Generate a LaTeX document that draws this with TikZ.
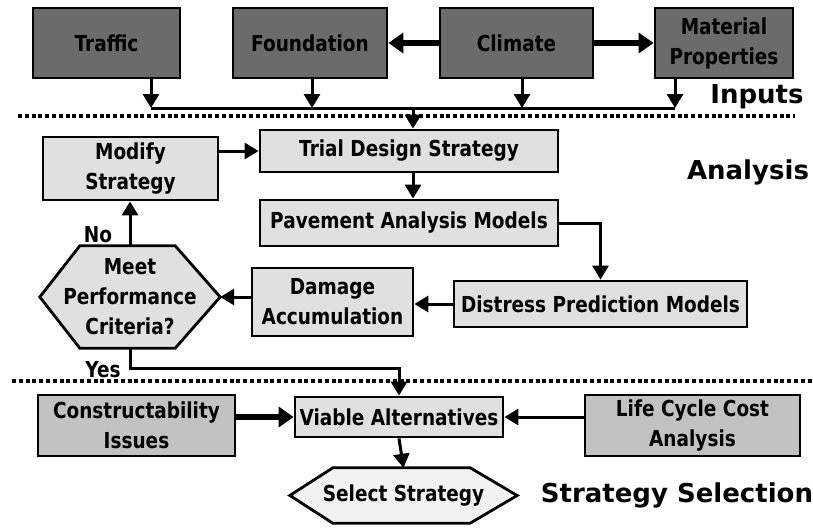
\documentclass[tikz,border=0pt]{standalone}
\usepackage{fontspec}
\setmainfont{DejaVu Sans}
\newfontfamily\boxfont{DejaVu Sans}[FakeStretch=0.84]
\usetikzlibrary{arrows.meta}
\definecolor{inputfill}{HTML}{6B6B6B}
\definecolor{analysisfill}{HTML}{E0E0E0}
\definecolor{selfill}{HTML}{C2C2C2}
\definecolor{finalfill}{HTML}{F2F2F2}
\begin{document}
\begin{tikzpicture}[x=1pt,y=-1pt,
  box/.style={draw=black, line width=2.8pt, align=center, inner sep=0pt,
    font=\boxfont\bfseries\fontsize{22}{30}\selectfont},
  inbox/.style={box, fill=inputfill},
  anbox/.style={box, fill=analysisfill},
  selbox/.style={box, fill=selfill},
  hexshape/.style={draw=black, line width=2.8pt, line join=miter},
  hextext/.style={align=center, inner sep=0pt, font=\boxfont\bfseries\fontsize{22}{30}\selectfont},
  holder/.style={draw=none, inner sep=0pt},
  arr/.style={line width=3pt, -{Triangle[length=14pt,width=16pt]}},
  thickarr/.style={line width=5.5pt, -{Triangle[length=15pt,width=20pt]}},
  plainline/.style={line width=3pt},
  sepline/.style={line width=4pt, dash pattern=on 4pt off 2.8pt},
  section/.style={font=\bfseries\fontsize{26}{30}\selectfont, inner sep=0pt},
  lbl/.style={font=\boxfont\bfseries\fontsize{22}{26}\selectfont, inner sep=0pt}
]
\fill[white] (0,0) rectangle (813,527);
\useasboundingbox (0,0) rectangle (813,527);

% separators
\draw[sepline] (18,116) -- (795,116);
\draw[sepline] (12,381) -- (813,381);

% Inputs
\node[inbox, minimum width=147pt, minimum height=70pt] (traffic) at (106.5,43) {Traffic};
\node[inbox, minimum width=154pt, minimum height=70pt] (foundation) at (310,43) {Foundation};
\node[inbox, minimum width=153pt, minimum height=70pt] (climate) at (516.5,43) {Climate};
\node[inbox, minimum width=138pt, minimum height=70pt] (material) at (724,43) {Material\\Properties};

\draw[thickarr] (climate.west) -- (foundation.east);
\draw[thickarr] (climate.east) -- (material.west);

\coordinate (busL) at (151,108);
\coordinate (busR) at (675,108);
\coordinate (busM) at (413,108);
\draw[plainline] (busL) -- (busR);
\draw[arr] (traffic.south -| busL) -- (busL);
\draw[arr] ([xshift=2pt]foundation.south) -- ([xshift=2pt]foundation.south |- busL);
\draw[arr] ([xshift=5.5pt]climate.south) -- ([xshift=5.5pt]climate.south |- busL);
\draw[arr] (material.south -| busR) -- (busR);

\node[section] (inputs) at (757,97) {Inputs};

% Analysis
\node[anbox, minimum width=298pt, minimum height=42pt] (trial) at (409,151) {Trial Design Strategy};
\node[anbox, minimum width=175pt, minimum height=63pt] (modify) at (130.5,168.5) {Modify\\Strategy};
\node[anbox, minimum width=298pt, minimum height=46pt] (pavement) at (409,223) {Pavement Analysis Models};
\node[anbox, minimum width=293pt, minimum height=46pt] (distress) at (600.5,304) {Distress Prediction Models};
\node[anbox, minimum width=161pt, minimum height=68pt] (damage) at (332.5,302) {Damage\\Accumulation};

\node[holder, minimum width=180pt, minimum height=102pt] (meet) at (130,297) {};
\draw[hexshape, fill=analysisfill] (meet.west) -- ([xshift=40pt]meet.north west) -- ([xshift=-45pt]meet.north east)
  -- (meet.east) -- ([xshift=-45pt]meet.south east) -- ([xshift=40pt]meet.south west) -- cycle;
\node[hextext] (meettext) at (meet) {Meet\\Performance\\Criteria?};

\draw[arr] (busM) -- (busM |- trial.north);
\draw[arr] (modify.east |- trial.west) -- (trial.west);
\draw[arr] (trial.south -| busM) -- (pavement.north -| busM);
\draw[arr] (pavement.east) -| (distress.north);
\draw[arr] (distress.west) -- (distress.west -| damage.east);
\draw[arr] (damage.west |- meet.east) -- (meet.east);
\draw[arr] (meet.north) -- (meet.north |- modify.south);

\node[lbl] (no) at (98,235) {No};
\node[lbl] (yes) at (103,370) {Yes};
\node[section] (analysis) at (748,172) {Analysis};

% Strategy selection
\node[anbox, minimum width=208pt, minimum height=40pt] (viable) at (399,417) {Viable Alternatives};
\node[selbox, minimum width=197pt, minimum height=61pt] (constr) at (136.5,425.5) {Constructability\\Issues};
\node[selbox, minimum width=215pt, minimum height=61pt] (life) at (692.5,425.5) {Life Cycle Cost\\Analysis};

\node[holder, minimum width=227pt, minimum height=55pt] (select) at (403.5,495.5) {};
\draw[hexshape, fill=finalfill] (select.west) -- ([xshift=43pt]select.north west) -- ([xshift=-47pt]select.north east)
  -- (select.east) -- ([xshift=-47pt]select.south east) -- ([xshift=43pt]select.south west) -- cycle;
\node[hextext] (selecttext) at (select) {Select Strategy};

\draw[arr] (meet.south) -- ++(0,20) -| (viable.north);
\draw[thickarr] (constr.east |- viable.west) -- (viable.west);
\draw[arr] (life.west |- viable.east) -- (viable.east);
\draw[arr] (viable.south) -- (select.north);

\node[section] (strategysel) at (677,495) {Strategy Selection};
\end{tikzpicture}
\end{document}
